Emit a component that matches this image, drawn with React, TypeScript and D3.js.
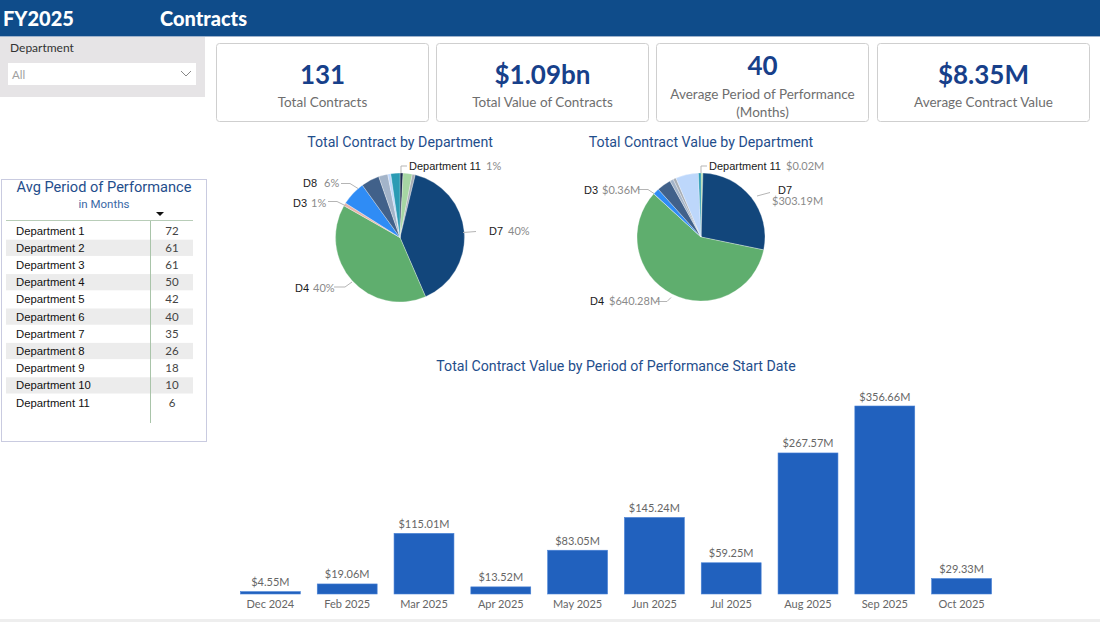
import React from "react";
import * as d3 from "d3";

// ---------- data ----------
const kpiValues = ["131", "$1.09bn", "40", "$8.35M"];
const kpiLabels = [["Total Contracts"], ["Total Value of Contracts"], ["Average Period of Performance", "(Months)"], ["Average Contract Value"]];

const deptNames = ["Department 11", "D1", "D2", "D7", "D4", "D3", "D8", "D5", "D6", "D9", "D10"];
const deptColors = ["#1c2d52", "#a6d6a3", "#a7adb5", "#12467b", "#5fae6e", "#e9b5a9", "#2f8cf5", "#41618a", "#a3b4c9", "#bdd7fb", "#2b9bb4"];
const deptCounts = [1, 3, 1, 52, 52, 1, 8, 6, 3, 1, 3];
const deptValues = [0.02, 5.39, 8, 303.19, 640.28, 0.36, 17, 39, 10, 63, 7];
const valueOrder = ["Department 11", "D1", "D7", "D4", "D3", "D8", "D5", "D6", "D2", "D9", "D10"];

const tableDepts = ["Department 1", "Department 2", "Department 3", "Department 4", "Department 5", "Department 6", "Department 7", "Department 8", "Department 9", "Department 10", "Department 11"];
const tableMonths = [72, 61, 61, 50, 42, 40, 35, 26, 18, 10, 6];

const months = ["Dec 2024", "Feb 2025", "Mar 2025", "Apr 2025", "May 2025", "Jun 2025", "Jul 2025", "Aug 2025", "Sep 2025", "Oct 2025"];
const monthValues = [4.55, 19.06, 115.01, 13.52, 83.05, 145.24, 59.25, 267.57, 356.66, 29.33];

// ---------- styles ----------
const TITLE = "#1f4e8c";
const LABEL_FONT = "Liberation Sans, Arial, sans-serif";
const UI_FONT = "Lato, 'Open Sans', sans-serif";

type LabelSpec = { name: string; lines: { text: string; x: number; y: number; gray?: boolean }[]; path: [number, number][] };

const fmtM = (v: number) => "$" + v.toFixed(2) + "M";

function Pie({ cx, cy, r, order, values, labels }: { cx: number; cy: number; r: number; order: string[]; values: number[]; labels: LabelSpec[] }) {
  const data = order.map((n) => {
    const i = deptNames.indexOf(n);
    return { name: n, value: values[i], color: deptColors[i] };
  });
  const pie = d3.pie<{ name: string; value: number; color: string }>().sort(null).value((d) => d.value);
  const arcs = pie(data);
  const arc = d3.arc<d3.PieArcDatum<any>>().innerRadius(0).outerRadius(r);
  return (
    <g>
      <g transform={`translate(${cx},${cy})`}>
        {arcs.map((a) => (
          <path key={a.data.name} d={arc(a) || ""} fill={a.data.color} stroke="#ffffff" strokeWidth={0.3} />
        ))}
      </g>
      {labels.map((l) => (
        <g key={l.name}>
          <path d={d3.line()(l.path) || ""} fill="none" stroke="#b5b5b5" strokeWidth={1} />
          {l.lines.map((t, k) => (
            <text key={k} x={t.x} y={t.y} fontSize={11} fontFamily={t.gray ? UI_FONT : LABEL_FONT} fill={t.gray ? "#8a8a8a" : "#1a1a1a"}>
              {t.text}
            </text>
          ))}
        </g>
      ))}
    </g>
  );
}

export default function App() {
  const totalCount = d3.sum(deptCounts);
  const pct = (n: string) => Math.round((deptCounts[deptNames.indexOf(n)] / totalCount) * 100) + "%";
  const val = (n: string) => fmtM(deptValues[deptNames.indexOf(n)]);

  const pie1Labels: LabelSpec[] = [
    { name: "Department 11", lines: [{ text: "Department 11", x: 409, y: 170 }, { text: pct("Department 11"), x: 486, y: 170, gray: true }], path: [[401, 173], [401, 166], [407, 166]] },
    { name: "D8", lines: [{ text: "D8", x: 303, y: 187 }, { text: pct("D8"), x: 324, y: 187, gray: true }], path: [[341, 183.5], [350, 183.5], [358, 188.5]] },
    { name: "D3", lines: [{ text: "D3", x: 293, y: 207 }, { text: pct("D3"), x: 311, y: 207, gray: true }], path: [[328, 201.5], [337, 201.5], [346, 206]] },
    { name: "D7", lines: [{ text: "D7", x: 489, y: 235 }, { text: pct("D7"), x: 508, y: 235, gray: true }], path: [[463, 232.5], [476, 231.5]] },
    { name: "D4", lines: [{ text: "D4", x: 295, y: 292 }, { text: pct("D4"), x: 313, y: 292, gray: true }], path: [[334, 287], [345, 287], [352, 282]] },
  ];
  const pie2Labels: LabelSpec[] = [
    { name: "Department 11", lines: [{ text: "Department 11", x: 709, y: 170 }, { text: val("Department 11"), x: 786, y: 170, gray: true }], path: [[701, 173], [701, 166], [707, 166]] },
    { name: "D7", lines: [{ text: "D7", x: 778, y: 194 }, { text: val("D7"), x: 772, y: 205, gray: true }], path: [[757, 196], [770, 192.5]] },
    { name: "D3", lines: [{ text: "D3", x: 584, y: 194 }, { text: val("D3"), x: 602, y: 194, gray: true }], path: [[638, 189.5], [648, 189.5], [654, 193.5]] },
    { name: "D4", lines: [{ text: "D4", x: 590, y: 305 }, { text: val("D4"), x: 609, y: 305, gray: true }], path: [[656, 301.5], [667, 301.5], [671, 297.5]] },
  ];

  // bar chart scales
  const x = d3.scaleBand<string>().domain(months).range([232, 1000]).paddingInner(0.22).paddingOuter(0.11);
  const y = d3.scaleLinear().domain([0, d3.max(monthValues) as number]).range([594, 406]);

  const cards = [216, 436, 656, 877];
  const rowH = 17.2;

  return (
    <svg width={1100} height={622} style={{ position: "absolute", left: 0, top: 0, background: "#ffffff" }} fontFamily={UI_FONT}>
      <rect x={0} y={0} width={1100} height={622} fill="#ffffff" />
      {/* header */}
      <rect x={0} y={0} width={1100} height={36} fill="#0f4c8a" />
      <line x1={0} x2={1100} y1={36.5} y2={36.5} stroke="#9fb3cc" strokeWidth={1} />
      <text x={3} y={26} fill="#ffffff" fontSize={20} fontWeight={900} fontFamily={UI_FONT}>FY2025</text>
      <text x={160} y={26} fill="#ffffff" fontSize={20} fontWeight={900} fontFamily={UI_FONT}>Contracts</text>

      {/* slicer */}
      <rect x={0} y={37} width={205} height={60} fill="#e6e4e6" />
      <text x={10} y={52} fontSize={12} fill="#333">Department</text>
      <rect x={8} y={63} width={188} height={22} fill="#ffffff" />
      <text x={12} y={79} fontSize={11.5} fill="#a0a0a0">All</text>
      <path d="M181,71 L186,76 L191,71" fill="none" stroke="#888" strokeWidth={1} />

      {/* KPI cards */}
      {cards.map((cx0, i) => {
        const c = cx0 + 106.5;
        const two = kpiLabels[i].length > 1;
        return (
          <g key={i}>
            <rect x={cx0 + 0.5} y={43.5} width={212} height={78} rx={3} fill="#ffffff" stroke="#cfcfcf" />
            <text x={c} y={two ? 75 : 84} textAnchor="middle" fontSize={26} fontWeight={700} fill="#17408a">{kpiValues[i]}</text>
            {kpiLabels[i].map((t, k) => (
              <text key={k} x={c} y={(two ? 99 : 107) + k * 18} textAnchor="middle" fontSize={13.5} fill="#6e6e6e">{t}</text>
            ))}
          </g>
        );
      })}

      {/* pies */}
      <text x={400} y={147} textAnchor="middle" fontSize={14.2} fontFamily="Roboto, sans-serif" fill={TITLE}>Total Contract by Department</text>
      <text x={701} y={147} textAnchor="middle" fontSize={14.2} fontFamily="Roboto, sans-serif" fill={TITLE}>Total Contract Value by Department</text>
      <Pie cx={400} cy={237.5} r={64.5} order={deptNames} values={deptCounts} labels={pie1Labels} />
      <Pie cx={701} cy={237} r={64} order={valueOrder} values={deptValues} labels={pie2Labels} />

      {/* table */}
      <rect x={1.5} y={179.5} width={205} height={262} fill="#ffffff" stroke="#c9cbe0" />
      <text x={104} y={192} textAnchor="middle" fontSize={14.6} fontFamily="Roboto, sans-serif" fill={TITLE}>Avg Period of Performance</text>
      <text x={104} y={208} textAnchor="middle" fontSize={11.5} fontFamily="Roboto, sans-serif" fill="#3a68a6">in Months</text>
      <path d="M156,212 L164,212 L160,216 Z" fill="#111" />
      {tableDepts.map((d, i) => (
        <g key={d}>
          {i % 2 === 1 && <rect x={6} y={222 + i * rowH + 0.5} width={187} height={rowH - 1} fill="#ececec" />}
          <text x={16} y={234.5 + i * rowH} fontSize={11.3} fontFamily={LABEL_FONT} fill="#111">{d}</text>
          <text x={172} y={234.5 + i * rowH} textAnchor="middle" fontSize={11.5} fill="#444">{tableMonths[i]}</text>
        </g>
      ))}
      <line x1={6} x2={193} y1={220.5} y2={220.5} stroke="#b8cdb8" />
      <line x1={150.5} x2={150.5} y1={221} y2={423} stroke="#a9c4a9" />

      {/* bar chart */}
      <text x={616} y={371} textAnchor="middle" fontSize={14.2} fontFamily="Roboto, sans-serif" fill={TITLE}>Total Contract Value by Period of Performance Start Date</text>
      {months.map((m, i) => {
        const bx = x(m) as number;
        const by = y(monthValues[i]);
        return (
          <g key={m}>
            <rect x={bx} y={by} width={x.bandwidth()} height={Math.max(594 - by, 1.5)} fill="#2161be" stroke="#4a82d6" strokeWidth={0.6} />
            <text x={bx + x.bandwidth() / 2} y={by - 5.5} textAnchor="middle" fontSize={11} fill="#666">{fmtM(monthValues[i])}</text>
            <text x={bx + x.bandwidth() / 2} y={608} textAnchor="middle" fontSize={11} fill="#666">{m}</text>
          </g>
        );
      })}
      <rect x={0} y={619} width={1100} height={3} fill="#eeeeee" />
    </svg>
  );
}
